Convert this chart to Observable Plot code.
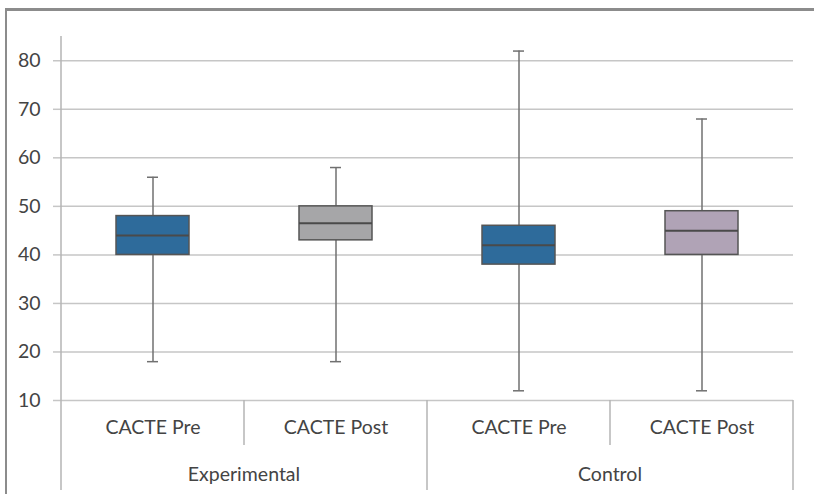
<!DOCTYPE html>
<html>
<head>
<meta charset="utf-8">
<script src="https://cdn.jsdelivr.net/npm/d3@7"></script>
<script src="https://cdn.jsdelivr.net/npm/@observablehq/plot@0.6"></script>
<style>
  html, body { margin: 0; padding: 0; background: #fff; }
  #wrap { position: relative; width: 814px; height: 494px; overflow: hidden; }
  #frame { position: absolute; left: 5px; top: 8px; width: 820px; height: 500px;
           border-top: 3px solid #8c8c8c; border-left: 2px solid #8c8c8c; box-sizing: border-box; }
  #chart { position: absolute; left: 0; top: 0; }
</style>
</head>
<body>
<div id="wrap"><div id="frame"></div><div id="chart"></div></div>
<script>
const groups     = ["Experimental", "Experimental", "Control", "Control"];
const categories = ["CACTE Pre", "CACTE Post", "CACTE Pre", "CACTE Post"];
const mins    = [18, 18, 12, 12];
const q1s     = [40, 43, 38, 40];
const medians = [44, 46.5, 42, 45];
const q3s     = [48, 50, 46, 49];
const maxs    = [56, 58, 82, 68];
const colors  = ["#2e6b9b", "#a6a6a8", "#2e6b9b", "#b0a3b6"];
const yTicks  = [10, 20, 30, 40, 50, 60, 70, 80];
const yDomain = [10, 85];

const table = categories.map((c, i) => ({
  key: groups[i] + " | " + c, group: groups[i], category: c,
  min: mins[i], q1: q1s[i], median: medians[i], q3: q3s[i], max: maxs[i], color: colors[i]
}));
const keys = table.map(d => d.key);

const FONT = "Lato, 'Liberation Sans', sans-serif";
const TEXT = "#444";
const FS = 19.5;
const boxInset = 55, capInset = 86;

const chart = Plot.plot({
  width: 814, height: 494,
  marginLeft: 60, marginRight: 21, marginTop: 36, marginBottom: 94,
  style: { fontFamily: FONT, background: "transparent" },
  x: { domain: keys, padding: 0, axis: null },
  y: { domain: yDomain, axis: null },
  marks: [
    Plot.ruleY(yTicks, { stroke: "#c6c6c6", strokeWidth: 1.5 }),
    Plot.axisY({ ticks: yTicks, tickSize: 7, tickPadding: 13, fontSize: FS,
                 stroke: "#c6c6c6", strokeWidth: 1.5, fill: TEXT, label: null }),
    Plot.ruleX(table, { x: "key", y1: "min", y2: "q1", stroke: "#707070", strokeWidth: 1.5 }),
    Plot.ruleX(table, { x: "key", y1: "q3", y2: "max", stroke: "#707070", strokeWidth: 1.5 }),
    Plot.tickY(table, { x: "key", y: "min", stroke: "#707070", strokeWidth: 1.5, insetLeft: capInset, insetRight: capInset }),
    Plot.tickY(table, { x: "key", y: "max", stroke: "#707070", strokeWidth: 1.5, insetLeft: capInset, insetRight: capInset }),
    Plot.barY(table, { x: "key", y1: "q1", y2: "q3", fill: "color", stroke: "#555", strokeWidth: 1.5,
                       insetLeft: boxInset, insetRight: boxInset }),
    Plot.tickY(table, { x: "key", y: "median", stroke: "#4a4a4a", strokeWidth: 2,
                        insetLeft: boxInset, insetRight: boxInset }),
    Plot.text(table, { x: "key", text: "category", frameAnchor: "bottom", dy: 33,
                       fontSize: FS, fill: TEXT })
  ]
});

// category axis lines and group labels, positioned through the plot's scales
const xs = chart.scale("x"), ys = chart.scale("y");
const bw = xs.bandwidth;
const svg = d3.select(chart);
const yBottom = ys.apply(yDomain[0]);
const yTop = ys.apply(yDomain[1]);
const lineColor = "#b4b4b4";
const g = svg.append("g").attr("stroke", lineColor).attr("stroke-width", 1.5);
g.append("line").attr("x1", xs.apply(keys[0])).attr("x2", xs.apply(keys[0]))
  .attr("y1", yTop).attr("y2", 490);
keys.forEach((k, i) => {
  const xEnd = xs.apply(k) + bw;
  const last = i === keys.length - 1;
  const groupEnd = last || groups[i + 1] !== groups[i];
  g.append("line").attr("x1", xEnd).attr("x2", xEnd)
    .attr("y1", yBottom).attr("y2", groupEnd ? 490 : 445);
});
const uniqueGroups = [...new Set(groups)];
uniqueGroups.forEach(gr => {
  const ks = table.filter(d => d.group === gr).map(d => d.key);
  const x0 = xs.apply(ks[0]), x1 = xs.apply(ks[ks.length - 1]) + bw;
  svg.append("text").attr("x", (x0 + x1) / 2).attr("y", 481)
    .attr("text-anchor", "middle").attr("font-size", FS).attr("fill", TEXT)
    .attr("font-family", FONT).text(gr);
});

document.getElementById("chart").appendChild(chart);
</script>
</body>
</html>
